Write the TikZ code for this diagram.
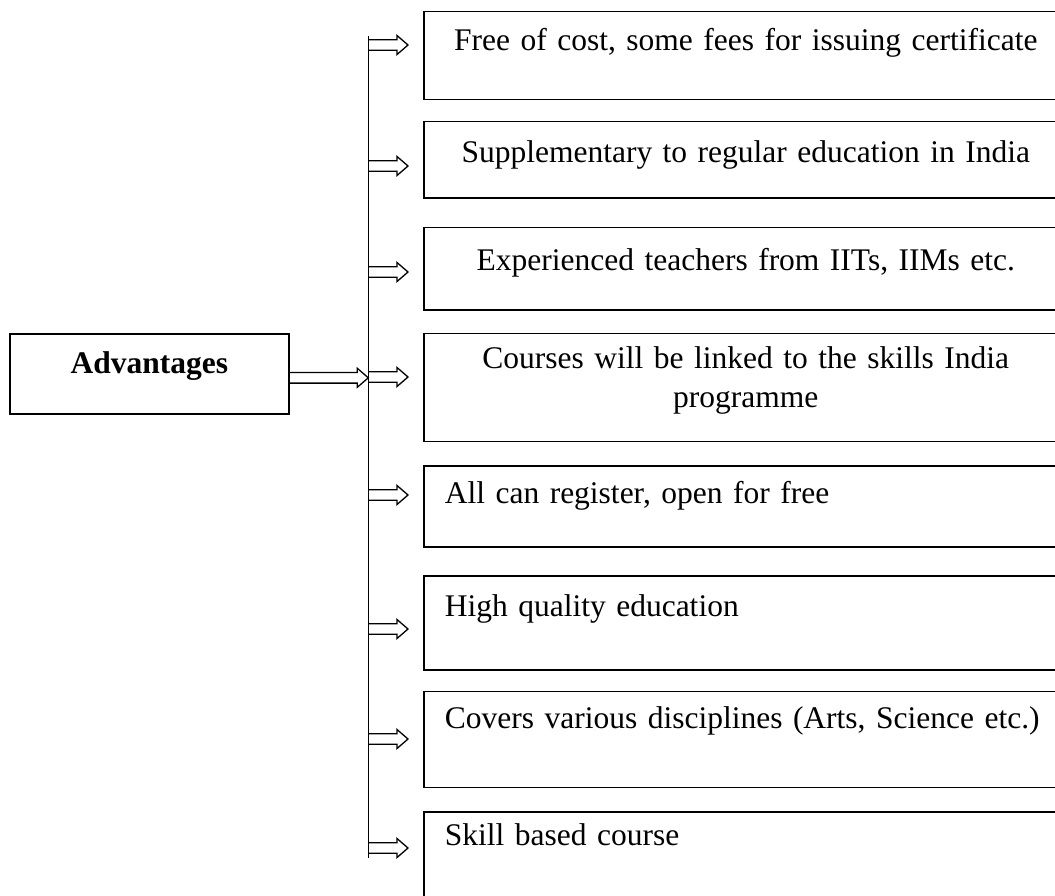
\documentclass[tikz,border=0pt]{standalone}
\usepackage{fontspec}
\setmainfont{Liberation Serif}
\usetikzlibrary{calc}
\begin{document}
\begin{tikzpicture}[x=1pt,y=-1pt,
  box/.style={draw=black, line width=1.6pt, rectangle, anchor=north west,
    inner xsep=21pt, inner ysep=0pt, text width=602pt,
    font=\fontsize{31.5}{39}\selectfont},
  cbox/.style={box, align=center},
  lbox/.style={box, align=left, text width=650pt},
  spine/.style={draw=black, line width=1.6pt},
  arr/.style={draw=black, line width=1.3pt, line join=miter,
    to path={let \p1=(\tikztostart), \p2=(\tikztotarget) in
      (\x1,\y1+5.3pt) -- (\x2-11pt,\y1+5.3pt) -- (\x2-11pt,\y1+9.5pt)
      -- (\x2,\y1) -- (\x2-11pt,\y1-9.5pt) -- (\x2-11pt,\y1-5.3pt)
      -- (\x1,\y1-5.3pt)}}]
\useasboundingbox (0,0) rectangle (1055,895);
\clip (0,0) rectangle (1055,895);

% main box
\node[draw=black, line width=1.6pt, rectangle, anchor=north west,
  inner sep=0pt, minimum width=279pt, text height=40pt, text depth=40pt,
  font=\fontsize{31.5}{39}\selectfont\bfseries] (adv) at (9,333) {Advantages};

% right boxes
\node[cbox, text height=39pt, text depth=49pt]   (b1) at (423,10.7)  {Free of cost, some fees for issuing certificate};
\node[cbox, text height=41pt, text depth=35.6pt] (b2) at (423,120.7) {Supplementary to regular education in India};
\node[cbox, text height=43pt, text depth=39.6pt] (b3) at (423,226.7) {Experienced teachers from IITs, IIMs etc.};
\node[cbox, text height=35pt, text depth=73pt]   (b4) at (423,332.7) {Courses will be linked to the skills India\\programme};
\node[lbox, text height=38pt, text depth=43pt]   (b5) at (423,465)   {All can register, open for free};
\node[lbox, text height=41pt, text depth=53.3pt] (b6) at (423,575)   {High quality education};
\node[lbox, text height=37pt, text depth=59pt]   (b7) at (423,690.7) {Covers various disciplines (Arts, Science etc.)};
\node[lbox, text height=34pt, text depth=56pt]   (b8) at (423,811)   {Skill based course};

% spine
\coordinate (vtop) at (368.3,36);
\coordinate (vbot) at (368.3,858);
\draw[spine] (vtop) -- (vbot);

% junctions on the spine
\coordinate (j1) at (368.3,45);
\coordinate (j2) at (368.3,166);
\coordinate (j3) at (368.3,272);
\coordinate (j4) at (368.3,377);
\coordinate (j5) at (368.3,495);
\coordinate (j6) at (368.3,629);
\coordinate (j7) at (368.3,739);
\coordinate (j8) at (368.3,848);

% arrows
\draw[arr] ([yshift=-4pt]adv.east) to (j4);
\draw[arr] (j1) to ([xshift=-15pt]b1.west);
\draw[arr] (j2) to ([xshift=-15pt]b2.west);
\draw[arr] (j3) to ([xshift=-15pt]b3.west);
\draw[arr] (j4) to ([xshift=-15pt]b4.west);
\draw[arr] (j5) to ([xshift=-15pt]b5.west);
\draw[arr] (j6) to ([xshift=-15pt]b6.west);
\draw[arr] (j7) to ([xshift=-15pt]b7.west);
\draw[arr] (j8) to ([xshift=-15pt]b8.west);
\end{tikzpicture}
\end{document}
